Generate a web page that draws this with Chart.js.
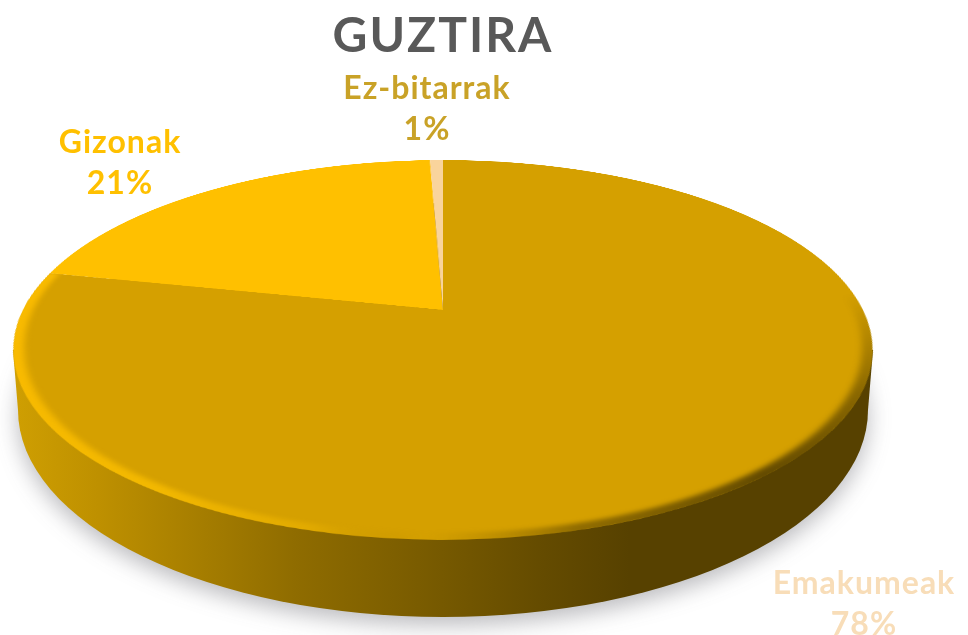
<!DOCTYPE html>
<html>
<head>
<meta charset="utf-8">
<script src="https://cdn.jsdelivr.net/npm/chart.js@4"></script>
<style>
html, body { margin: 0; padding: 0; width: 968px; height: 635px; overflow: hidden; background: #fff; }
canvas { position: absolute; }
#wall { left: 0; top: 0; }
/* pie lies flat, tilted back with a real perspective so the centre sits above the ellipse middle */
#pie { left: 13px; top: -120px; transform-origin: 430px 430px; transform: perspective(1801px) rotateX(64.4deg); }
.lbl { position: absolute; font-family: Lato, "Open Sans", sans-serif; font-weight: 700; text-align: center; white-space: nowrap; }
#title { left: 243px; width: 400px; top: 6px; font-size: 48px; line-height: 56px; letter-spacing: 2px; color: #595959; }
.data { font-size: 32px; line-height: 41px; letter-spacing: 1px; width: 240px; }
</style>
</head>
<body>
<canvas id="wall" width="968" height="635"></canvas>
<canvas id="pie" width="860" height="860" style="width:860px;height:860px"></canvas>
<div class="lbl" id="title">GUZTIRA</div>
<div class="lbl data" id="l0" style="left:744px;top:561px;color:#F8DDB8"></div>
<div class="lbl data" id="l1" style="left:0px;top:120px;color:#FFC000"></div>
<div class="lbl data" id="l2" style="left:307px;top:66px;color:#C9A227"></div>
<script>
const categories = ['Emakumeak', 'Gizonak', 'Ez-bitarrak'];
const shares = [78.4, 21, 0.6];
const sliceColors = ['#D5A000', '#FFC000', '#F9D49C'];

categories.forEach((c, i) => {
    document.getElementById('l' + i).innerHTML = c + '<br>' + Math.round(shares[i]) + '%';
});

// side of the disc and its soft shadow
function drawWall() {
    const ctx = document.getElementById('wall').getContext('2d');
    const g = ctx.createLinearGradient(13, 0, 870, 0);
    g.addColorStop(0, '#CF9F02');
    g.addColorStop(0.1, '#BE9000');
    g.addColorStop(0.33, '#8F6C00');
    g.addColorStop(0.5, '#765900');
    g.addColorStop(0.62, '#644B00');
    g.addColorStop(0.72, '#574100');
    g.addColorStop(1, '#574100');
    ctx.save();
    ctx.shadowColor = 'rgba(60,60,70,0.35)';
    ctx.shadowBlur = 22;
    ctx.shadowOffsetY = 8;
    ctx.shadowOffsetX = 0;
    ctx.fillStyle = g;
    ctx.beginPath();
    ctx.ellipse(443, 410, 425, 207, 0, 0, Math.PI * 2);
    ctx.fill();
    ctx.restore();
    ctx.fillStyle = g;
    ctx.beginPath();
    ctx.moveTo(13, 350);
    ctx.lineTo(873, 350);
    ctx.lineTo(868, 410);
    ctx.lineTo(18, 410);
    ctx.closePath();
    ctx.fill();
}
drawWall();

// rounded rim: light on the left and front, dark on the right.
// stops are clock angles, 0 at the top of the plate
const rimStops = [
    [0, 'rgba(87,65,0,0)'], [85, 'rgba(87,65,0,0)'], [115, 'rgba(87,65,0,0.6)'],
    [140, 'rgba(87,65,0,0.9)'], [165, 'rgba(87,65,0,0.55)'], [182, 'rgba(150,112,0,0)'],
    [195, 'rgba(250,190,0,0.35)'], [215, 'rgba(250,190,0,0.8)'], [250, 'rgba(248,186,0,1)'],
    [360, 'rgba(248,186,0,1)']
];
const rimPlugin = {
    id: 'rim',
    afterDatasetsDraw(chart) {
        const arc = chart.getDatasetMeta(0).data[0];
        const ctx = chart.ctx;
        const r = arc.outerRadius;
        const g = ctx.createConicGradient(-Math.PI / 2, arc.x, arc.y);
        rimStops.forEach(s => g.addColorStop(s[0] / 360, s[1]));
        const startAngle = -0.25;
        const endAngle = (shares[0] / 100) * Math.PI * 2 - Math.PI / 2;
        ctx.save();
        ctx.beginPath();
        ctx.moveTo(arc.x, arc.y);
        ctx.arc(arc.x, arc.y, r, startAngle, endAngle);
        ctx.closePath();
        ctx.clip();
        ctx.filter = 'blur(3px)';
        ctx.strokeStyle = g;
        ctx.lineWidth = 20;
        ctx.beginPath();
        ctx.arc(arc.x, arc.y, r, startAngle, endAngle);
        ctx.stroke();
        ctx.restore();
    }
};

new Chart(document.getElementById('pie'), {
    type: 'pie',
    data: {
        labels: categories,
        datasets: [{ data: shares, backgroundColor: sliceColors, borderWidth: 0, radius: 420 }]
    },
    options: {
        responsive: false,
        animation: false,
        plugins: { legend: { display: false }, tooltip: { enabled: false } }
    },
    plugins: [rimPlugin]
});
</script>
</body>
</html>
